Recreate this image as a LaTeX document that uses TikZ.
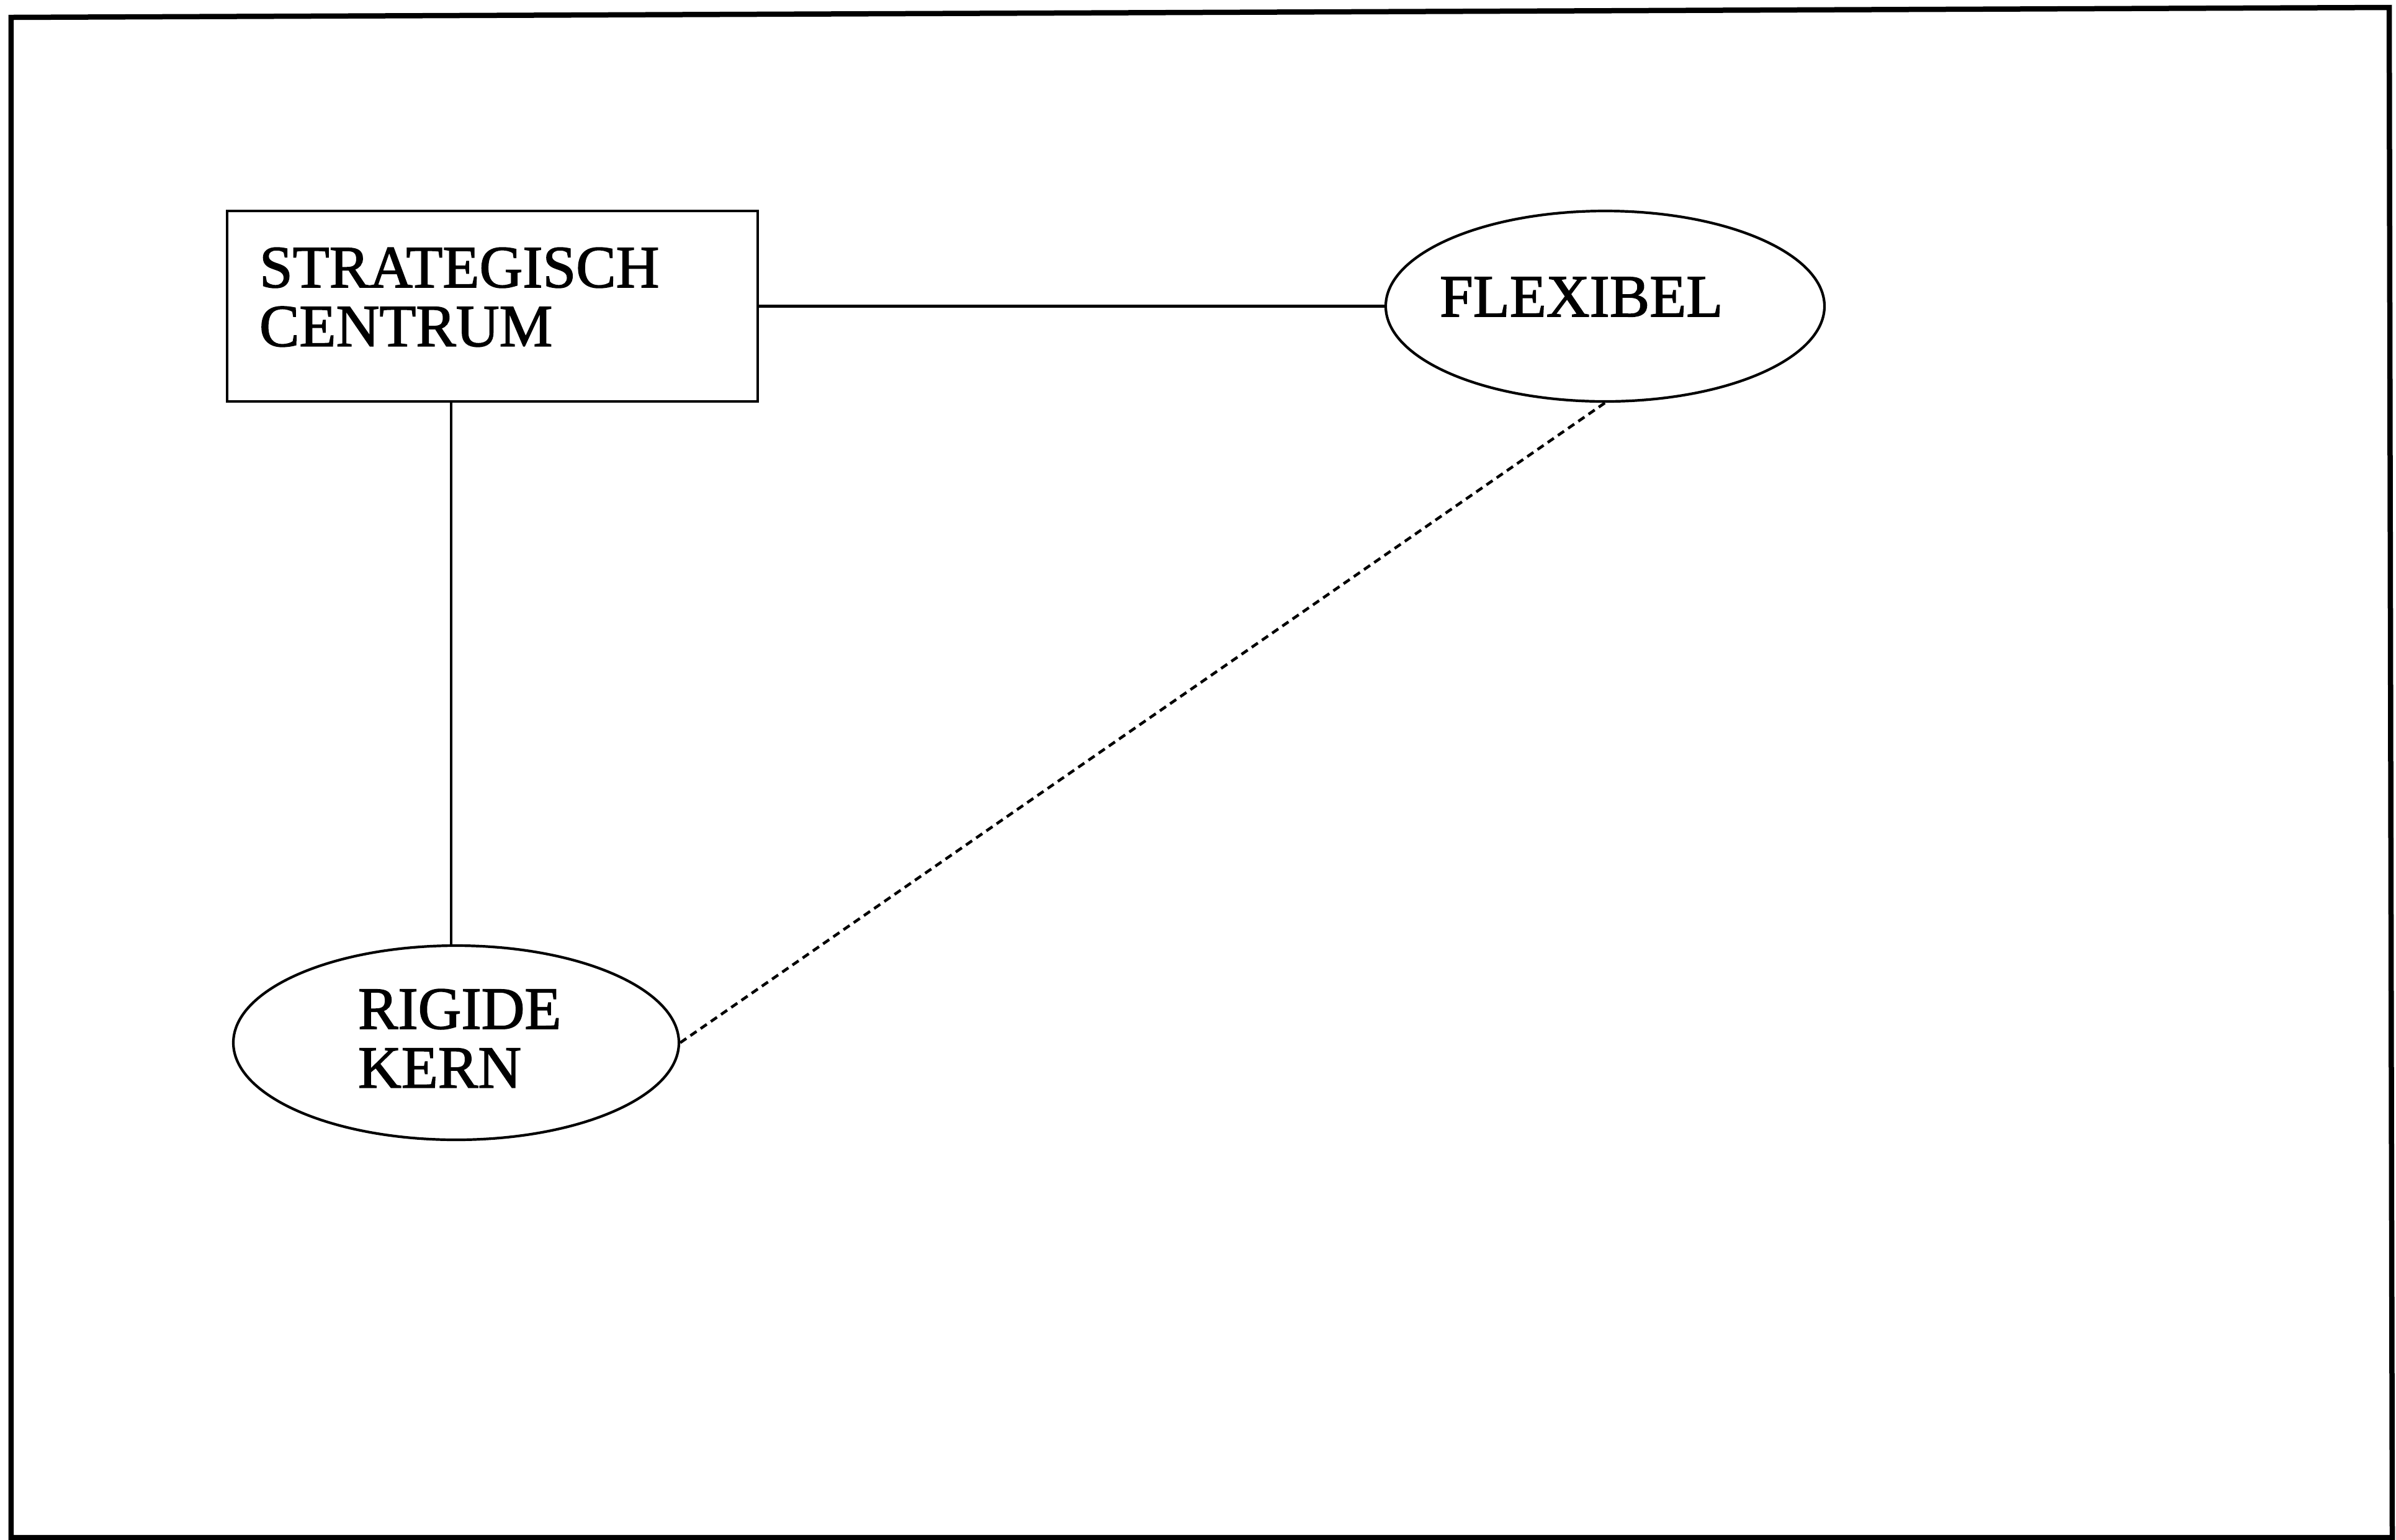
\documentclass[tikz,border=0pt]{standalone}
\usepackage{fontspec}
\setmainfont{Liberation Serif}[FakeBold=1.6]
\usetikzlibrary{shapes.geometric}
\newcommand\offtext[3]{\raisebox{#2}[0pt][0pt]{\makebox[0pt][l]{\hspace*{#1}#3}}}
\newcommand\twolines[2]{\begin{tabular}[t]{@{}l@{}}#1\\#2\end{tabular}}
\tikzset{
  framebox/.style={line width=0.85mm, line join=miter},
  boxnode/.style={draw, rectangle, line width=0.45mm, inner sep=0pt,
    minimum width=8.55cm, minimum height=3.07cm},
  ellnode/.style={draw, ellipse, line width=0.42mm, inner sep=0pt},
  conn/.style={line width=0.42mm},
  dashconn/.style={line width=0.45mm, dash pattern=on 1.2mm off 0.8mm},
}
\begin{document}
\begin{tikzpicture}[x=1cm,y=1cm]
\useasboundingbox (0,0) rectangle (38.61,-24.81);
\fill[white] (0,0) rectangle (38.61,-24.81);
\draw[framebox] (0.18,-0.28) -- (38.50,-0.12) -- (38.55,-24.78) -- (0.18,-24.78) -- cycle;
\fontsize{27.5}{27}\selectfont
\renewcommand\arraystretch{1}
\node[boxnode] (box) at (7.935,-4.935)
  {\offtext{-3.755cm}{0.305cm}{\twolines{STRATEGISCH}{CENTRUM}}};
\node[ellnode, minimum width=7.07cm, minimum height=3.07cm] (flex) at (25.865,-4.935)
  {\offtext{-2.665cm}{-0.165cm}{FLEXIBEL}};
\node[ellnode, minimum width=7.18cm, minimum height=3.13cm] (rig) at (7.35,-16.805)
  {\offtext{-1.58cm}{0.225cm}{\twolines{RIGIDE}{KERN}}};
\draw[conn] (box.east) -- (flex.west);
\draw[conn] (rig.93.5) -- (rig.93.5 |- box.south);
\draw[dashconn] (rig.east) -- (flex.south);
\end{tikzpicture}
\end{document}
